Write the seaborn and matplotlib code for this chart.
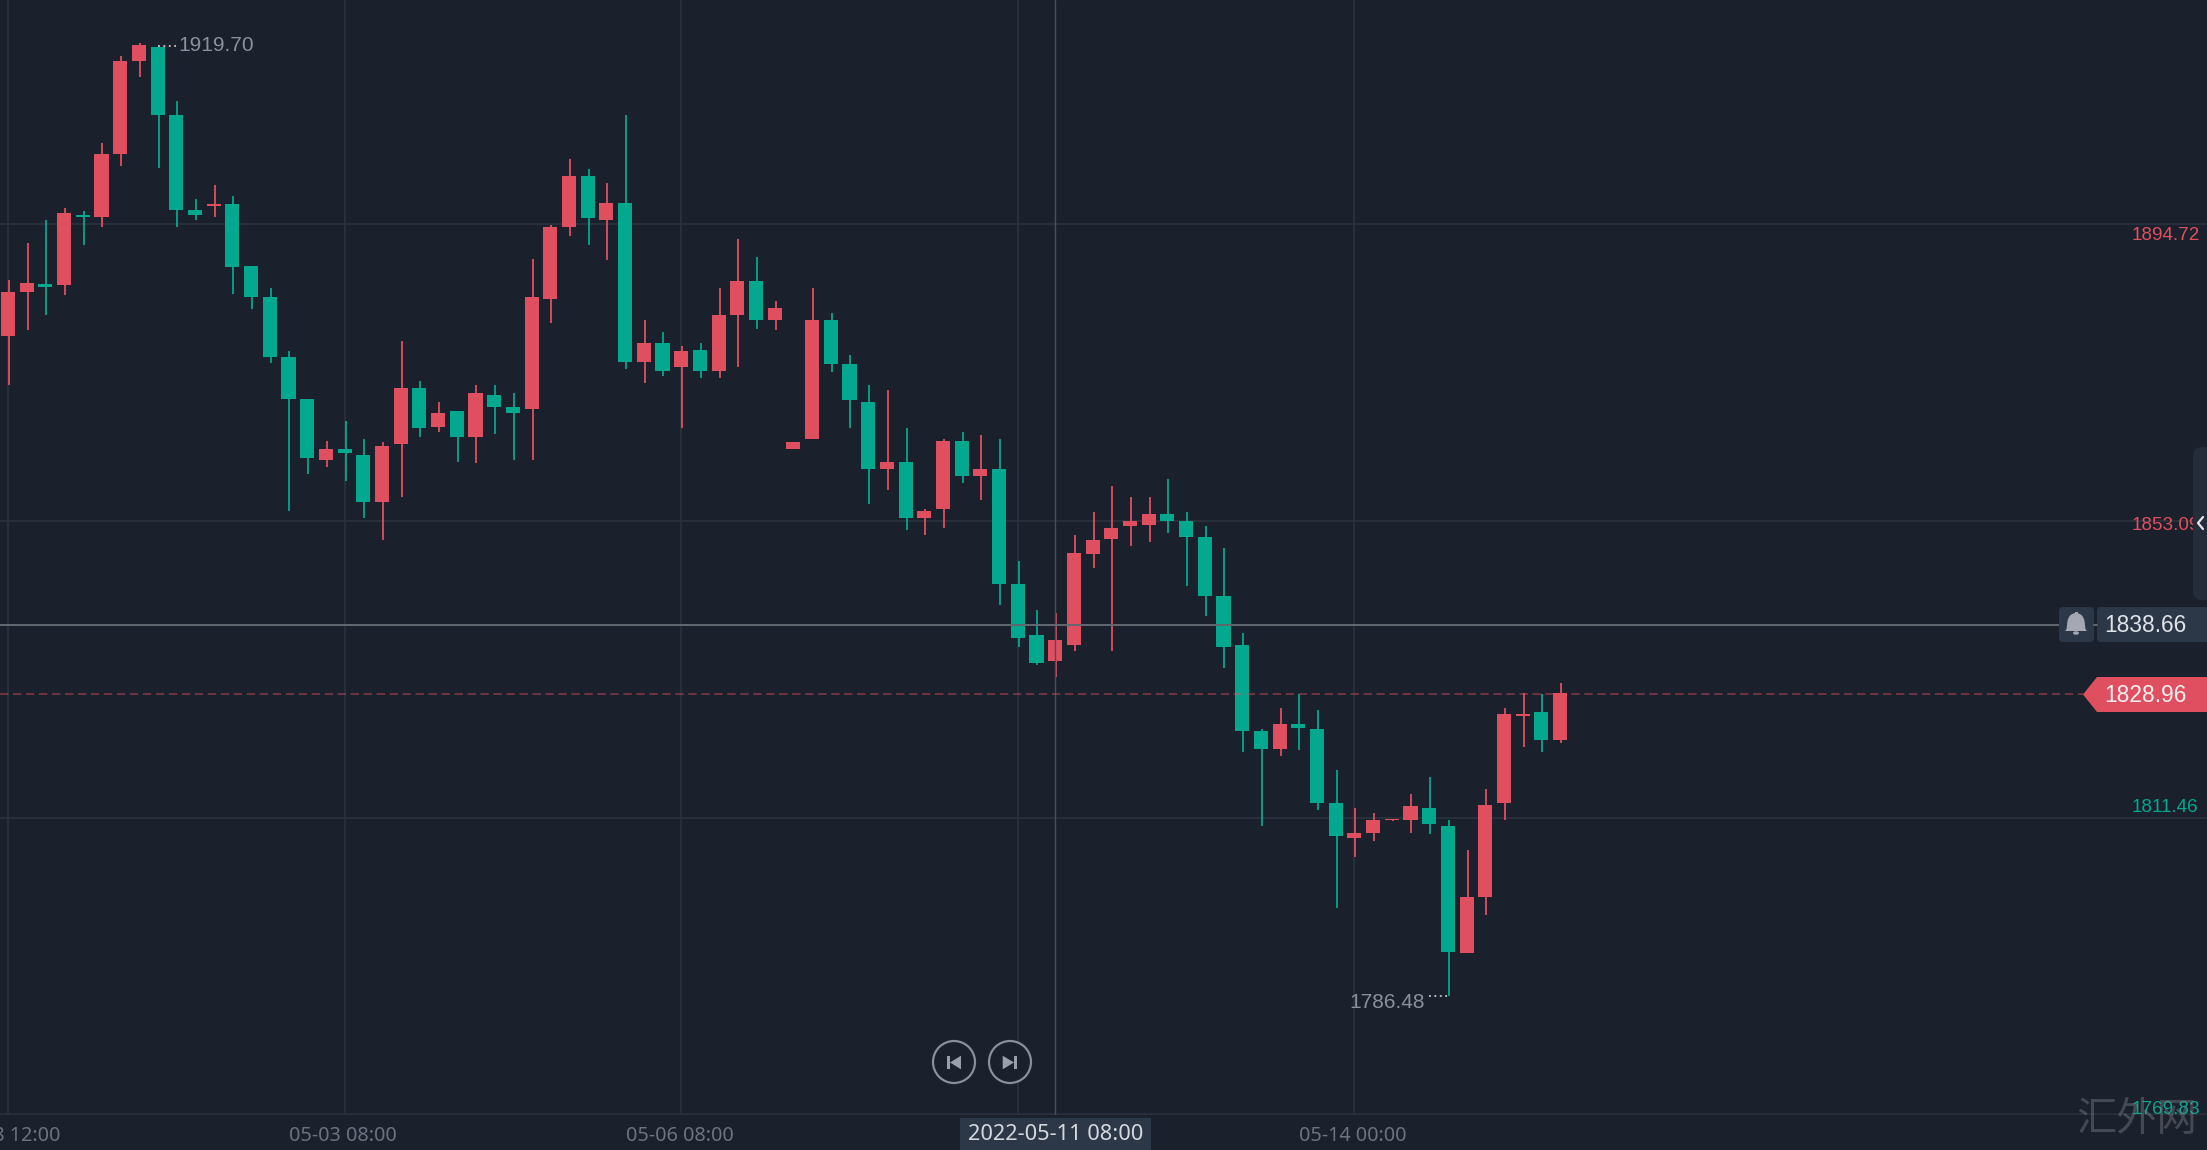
import numpy as np
import pandas as pd
import matplotlib
matplotlib.use("Agg")
import matplotlib.pyplot as plt
from matplotlib.patches import Circle, FancyBboxPatch, Polygon, Rectangle, Ellipse
from matplotlib.transforms import ScaledTranslation
import seaborn as sns

# ---- data -------------------------------------------------------------
opens = [1879.04,1885.17,1886.23,1886.19,1896.03,1895.69,1904.53,1917.56,1919.54,1909.98,
         1896.66,1897.19,1897.53,1888.84,1884.50,1876.05,1870.16,1861.62,1863.17,1862.35,
         1855.73,1863.87,1871.72,1866.26,1868.50,1864.85,1870.74,1869.06,1868.78,1884.20,
         1894.29,1901.43,1895.27,1897.65,1875.37,1878.03,1874.66,1877.05,1874.10,1881.95,
         1886.72,1881.25,1863.17,1864.57,1881.25,1875.08,1869.76,1860.37,1861.35,1853.50,
         1854.76,1864.29,1859.39,1860.37,1844.25,1837.10,1833.46,1835.70,1848.46,1850.56,
         1852.38,1852.52,1854.06,1853.09,1850.82,1842.57,1835.71,1823.65,1821.14,1824.61,
         1823.94,1813.56,1808.64,1809.36,1811.15,1811.20,1812.89,1810.33,1792.57,1800.38,
         1813.56,1825.80,1826.30,1822.39]
highs = [1886.86,1892.03,1895.31,1896.95,1896.51,1906.07,1918.23,1920.02,1919.70,1911.96,
         1898.20,1900.13,1898.59,1888.84,1885.75,1876.87,1870.16,1864.32,1867.12,1864.52,
         1864.18,1878.36,1872.70,1869.81,1868.50,1872.14,1872.14,1871.02,1889.80,1894.52,
         1903.82,1902.41,1900.45,1910.03,1881.25,1879.57,1877.61,1878.03,1885.74,1892.60,
         1890.08,1883.91,1864.15,1885.74,1882.23,1876.39,1872.14,1871.44,1866.11,1854.76,
         1864.57,1865.55,1865.13,1864.57,1847.47,1840.61,1840.14,1851.12,1854.34,1857.99,
         1856.44,1856.44,1858.97,1854.34,1852.36,1849.23,1837.35,1823.94,1826.93,1828.86,
         1826.64,1818.24,1812.89,1812.16,1811.30,1814.86,1817.23,1811.20,1807.00,1815.49,
         1826.93,1828.96,1828.86,1830.31]
lows = [1872.14,1879.86,1881.94,1884.69,1891.74,1894.34,1902.79,1915.30,1902.55,1894.34,
        1895.21,1895.69,1884.88,1882.76,1875.28,1854.53,1859.69,1860.66,1858.63,1853.51,
        1850.42,1856.49,1864.81,1865.60,1861.35,1861.21,1865.27,1861.63,1861.63,1880.83,
        1893.02,1891.76,1889.66,1874.39,1872.42,1873.40,1866.07,1873.12,1873.12,1874.66,
        1879.99,1879.85,1863.17,1864.57,1873.96,1866.07,1855.46,1857.42,1851.82,1851.12,
        1852.10,1858.41,1856.02,1841.31,1835.47,1832.90,1831.17,1834.91,1846.49,1834.91,
        1849.58,1850.14,1851.35,1843.92,1839.77,1832.43,1820.75,1810.33,1820.17,1821.04,
        1812.60,1798.84,1805.94,1808.20,1811.10,1809.31,1809.17,1786.48,1792.57,1797.87,
        1811.20,1821.43,1820.70,1822.01]
closes = [1885.17,1886.43,1885.90,1896.27,1895.69,1904.53,1917.56,1919.83,1909.98,1896.66,
          1895.98,1897.53,1888.70,1884.50,1876.05,1870.16,1861.91,1863.17,1862.63,1855.73,
          1863.60,1871.72,1866.11,1868.22,1864.85,1871.02,1869.06,1868.22,1884.47,1894.29,
          1901.43,1895.55,1897.65,1875.37,1878.03,1874.10,1876.91,1874.10,1881.95,1886.72,
          1881.25,1882.93,1864.15,1881.25,1875.08,1870.04,1860.37,1861.35,1853.50,1854.48,
          1864.29,1859.39,1860.37,1844.25,1836.68,1833.18,1836.40,1848.59,1850.42,1852.10,
          1853.08,1854.06,1853.08,1850.82,1842.57,1835.42,1823.65,1821.14,1824.61,1824.08,
          1813.56,1808.93,1809.36,1811.20,1811.30,1813.13,1810.62,1792.66,1800.38,1813.27,
          1826.01,1826.01,1822.39,1828.96]

x_ticks = [0, 18, 36, 54, 72]
# the label at index 54 is not shown in the reference: the crosshair tag sits there
x_tick_labels = ["04-28 12:00", "05-03 08:00", "05-06 08:00", "", "05-14 00:00"]
price_levels = [1894.72, 1853.09, 1811.46, 1769.83]
crosshair_index = 56
crosshair_label = "2022-05-11 08:00"
crosshair_price = 1838.66
last_price = 1828.96
high_price = 1919.70
high_index = 8
low_price = 1786.48
low_index = 77

# ---- colours ----------------------------------------------------------
BG = "#1a202c"
GRID = "#27303b"
RED = "#e04f5f"
GREEN = "#04a88f"
AXIS_TEXT = "#6b7280"
MUTED = "#8a909c"
BOX = "#2c3747"

W, H = 2207, 1150
DPI = 100
sns.set_theme(style="dark", rc={"axes.facecolor": BG, "figure.facecolor": BG})
plt.rcParams["font.family"] = ["Liberation Sans", "DejaVu Sans"]

fig = plt.figure(figsize=(W / DPI, H / DPI), dpi=DPI, facecolor=BG)
# plot area: everything above the time axis
PLOT_BOTTOM = 1115
ax = fig.add_axes([0, 1 - PLOT_BOTTOM / H, 1, PLOT_BOTTOM / H])

df = pd.DataFrame({"i": np.arange(len(opens)), "open": opens, "high": highs,
                   "low": lows, "close": closes})
df["bottom"] = df[["open", "close"]].min(axis=1)
df["height"] = (df["close"] - df["open"]).abs()
df["up"] = df["close"] >= df["open"]

BODY_W = 0.75
for up, color in [(True, RED), (False, GREEN)]:
    sub = df[df["up"] == up]
    sns.barplot(data=sub, x="i", y="height", bottom=sub["bottom"].to_numpy(), ax=ax,
                color=color, saturation=1, errorbar=None, native_scale=True,
                width=BODY_W, linewidth=0, zorder=3)
    ax.vlines(sub["i"] + 0.05, sub["low"], sub["high"], color=color, linewidth=1.3, zorder=2.5)

# scales: one candle is 18.7 px, one price unit 7.135 px, as measured from the grid
ax.set_xlim(-8 / 18.7, (W - 8) / 18.7)
ax.set_ylim(price_levels[-1], price_levels[0] + 223.9 / 7.135)
ax.set_xlabel("")
ax.set_ylabel("")
ax.set_facecolor(BG)
for s in ax.spines.values():
    s.set_visible(False)

ax.set_xticks(x_ticks)
ax.set_xticklabels(x_tick_labels, family="Noto Sans", fontsize=14.3, color=AXIS_TEXT)
ax.set_yticks(price_levels)
ax.set_yticklabels([])
ax.tick_params(axis="both", length=0, pad=8)
nudge = ScaledTranslation(-1.5 / DPI, 0, fig.dpi_scale_trans)
for lab in ax.get_xticklabels():
    lab.set_transform(lab.get_transform() + nudge)
ax.grid(True, color=GRID, linewidth=1.4, zorder=0)
ax.set_axisbelow(True)
ax.axhline(price_levels[-1], color=GRID, linewidth=2.6, zorder=1)

# price axis labels, inside the plot on the right
ytrans = ax.get_yaxis_transform()
for lvl, col, dy in zip(price_levels, [RED, RED, GREEN, GREEN], [-12, -4.5, 10, 6]):
    ax.annotate(f"{lvl:.2f}", xy=(2132 / W, lvl), xycoords=ytrans, xytext=(0, dy),
                textcoords="offset pixels", color=col, fontsize=13.6, ha="left", va="center", zorder=5)

# crosshair and last price lines
line_nudge = ytrans + ScaledTranslation(0, -1 / DPI, fig.dpi_scale_trans)
ax.axvline(crosshair_index, color="#4a505b", linewidth=1.0, zorder=4)
ax.plot([0, 2059 / W], [crosshair_price] * 2, transform=line_nudge, color="#63676f",
        linewidth=1.4, zorder=4, solid_capstyle="butt")
ax.plot([0, 2083 / W], [last_price] * 2, transform=line_nudge, color=RED, alpha=0.55,
        linewidth=1.1, dashes=(5.5, 3), zorder=4)

# high / low markers
ax.plot([high_index, high_index + 1], [high_price] * 2, color="#c9ccd2", linewidth=1.3,
        dashes=(1, 2), zorder=4)
ax.annotate(f"{high_price:.2f}", xy=(high_index + 1, high_price), xytext=(2, 0),
            textcoords="offset pixels", color=MUTED, fontsize=15, ha="left", va="center")
ax.plot([low_index - 1, low_index], [low_price] * 2, color="#c9ccd2", linewidth=1.3,
        dashes=(1, 2), zorder=4)
ax.annotate(f"{low_price:.2f}", xy=(low_index - 1, low_price), xytext=(-4, -6),
            textcoords="offset pixels", color=MUTED, fontsize=15, ha="right", va="center")

# overlay in pixel coordinates for interface furniture
ui = fig.add_axes([0, 0, 1, 1], facecolor="none")
ui.set_xlim(0, W)
ui.set_ylim(H, 0)
ui.axis("off")

def box(x0, y0, x1, y1, color, r=4, z=6):
    ui.add_patch(FancyBboxPatch((x0 + r, y0 + r), x1 - x0 - 2 * r, y1 - y0 - 2 * r,
                                boxstyle=f"round,pad={r},rounding_size={r}",
                                fc=color, ec="none", zorder=z))

# right collapse handle
box(2193, 447, 2230, 600, "#252c3a", r=9)
ui.plot([2203, 2198, 2203], [517, 523, 529], color="#e4e6ea", linewidth=1.6, zorder=7)

# crosshair price tag with bell
box(2059, 607, 2094, 642, BOX)
box(2097, 607, 2225, 642, BOX)
ui.plot([2094, 2097], [625, 625], color="#63676f", linewidth=1.4, zorder=6)
BELL = "#a3a8b2"
ui.add_patch(Ellipse((2076, 622), 17, 18, fc=BELL, ec="none", zorder=7))
ui.add_patch(Polygon([(2067.5, 622), (2084.5, 622), (2085.5, 629), (2087, 631),
                      (2065, 631), (2066.5, 629)], fc=BELL, ec="none", zorder=7))
ui.add_patch(Rectangle((2074.5, 611.5), 3, 3, fc=BELL, ec="none", zorder=7))
ui.add_patch(Ellipse((2076, 633), 6, 3.5, fc=BELL, ec="none", zorder=7))
ui.text(2104, 625.5, f"{crosshair_price:.2f}", color="#dfe2e7", fontsize=16.4, ha="left", va="center", zorder=8)

# last price tag
ui.add_patch(Polygon([(2083, 694.5), (2097, 677), (W, 677), (W, 712), (2097, 712)],
                     fc=RED, ec="none", zorder=6))
ui.text(2104, 696, f"{last_price:.2f}", color="#f7f0f1", fontsize=16.4, ha="left", va="center", zorder=8)

# crosshair time tag
ui.add_patch(Rectangle((960, 1118), 191, 32, fc=BOX, ec="none", zorder=6))
ui.text(1055.5, 1134.5, crosshair_label, family="Noto Sans", color="#d5d8de", fontsize=15.7,
        ha="center", va="center", zorder=8)

# playback buttons
ICON = "#9a9fa9"
for cx in (954, 1010):
    ui.add_patch(Circle((cx, 1062), 21, fc=BG, ec="#8a8f99", linewidth=1.6, zorder=6))
ui.add_patch(Rectangle((946.7, 1055.7), 3.6, 13.6, fc=ICON, ec="none", zorder=7))
ui.add_patch(Polygon([(950, 1062.5), (961, 1055.7), (961, 1069.3)], fc=ICON, ec="none", zorder=7))
ui.add_patch(Polygon([(1002.7, 1055.7), (1014, 1062.5), (1002.7, 1069.3)], fc=ICON, ec="none", zorder=7))
ui.add_patch(Rectangle((1013.7, 1055.7), 3.6, 13.6, fc=ICON, ec="none", zorder=7))

# watermark
ui.text(2137, 1120, "汇外网", family=["Noto Sans CJK SC", "DejaVu Sans"], color="#8a8d94", alpha=0.38,
        fontsize=29, ha="center", va="center", zorder=9)

fig.savefig("out.png", dpi=DPI, facecolor=BG)
